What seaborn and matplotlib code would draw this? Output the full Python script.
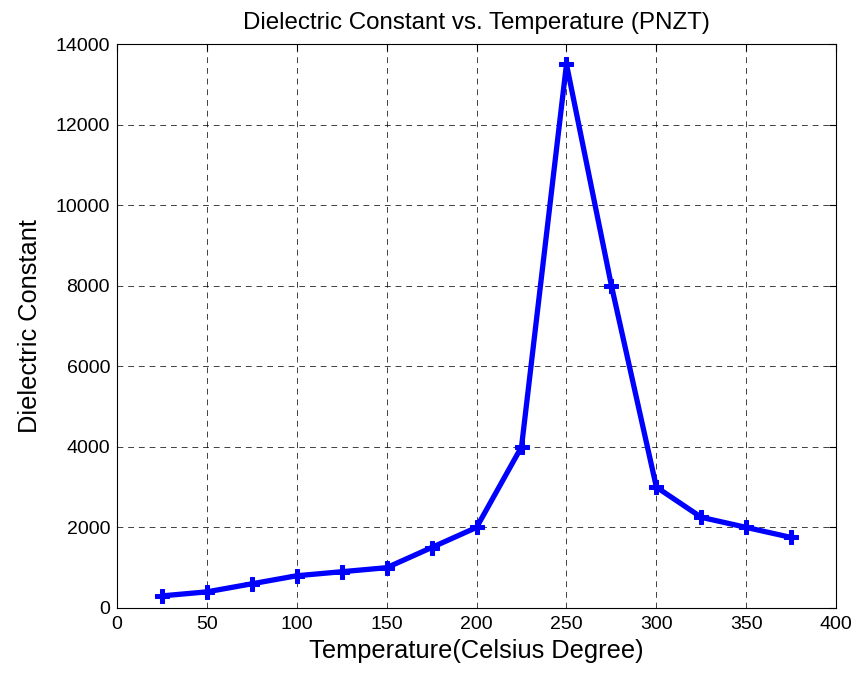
import matplotlib
matplotlib.use("Agg")
import matplotlib.pyplot as plt
import seaborn as sns
import pandas as pd

temperature = [25, 50, 75, 100, 125, 150, 175, 200, 225, 250, 275, 300, 325, 350, 375]
dielectric = [300, 400, 600, 800, 900, 1000, 1500, 2000, 4000, 13500, 8000, 3000, 2250, 2000, 1750]
x_ticks = [0, 50, 100, 150, 200, 250, 300, 350, 400]
y_ticks = [0, 2000, 4000, 6000, 8000, 10000, 12000, 14000]

sns.set_style("white")
plt.rcParams['font.family'] = ['Liberation Sans', 'DejaVu Sans']
plt.rcParams['text.color'] = 'black'
plt.rcParams['axes.labelcolor'] = 'black'

df = pd.DataFrame({"T": temperature, "D": dielectric})

fig = plt.figure(figsize=(8.55, 6.75), dpi=100)
ax = fig.add_axes([0.1368, 0.0993, 0.8412, 0.8355])
sns.lineplot(data=df, x="T", y="D", ax=ax, color="#0000ff", linewidth=3.8,
             marker="P", markersize=9.5, markeredgecolor="#0000ff")

ax.set_xlim(0, 400)
ax.set_ylim(0, 14000)
ax.set_xticks(x_ticks)
ax.set_yticks(y_ticks)
ax.tick_params(direction="in", length=5, labelsize=14, colors="black", top=True, right=True)
ax.tick_params(axis="x", pad=6)
ax.tick_params(axis="y", pad=5)
ax.grid(True, color="black", linestyle=(0, (6, 5)), linewidth=0.7, alpha=0.75)
for s in ax.spines.values():
    s.set_color("black")
    s.set_linewidth(0.8)
ax.set_xlabel("Temperature(Celsius Degree)", fontsize=18.3, color="black", labelpad=4)
ax.set_ylabel("Dielectric Constant", fontsize=18.3, color="black", labelpad=10)
ax.set_title("Dielectric Constant vs. Temperature (PNZT)", fontsize=17.4, color="black", pad=11)

fig.savefig("out.png", dpi=100)
